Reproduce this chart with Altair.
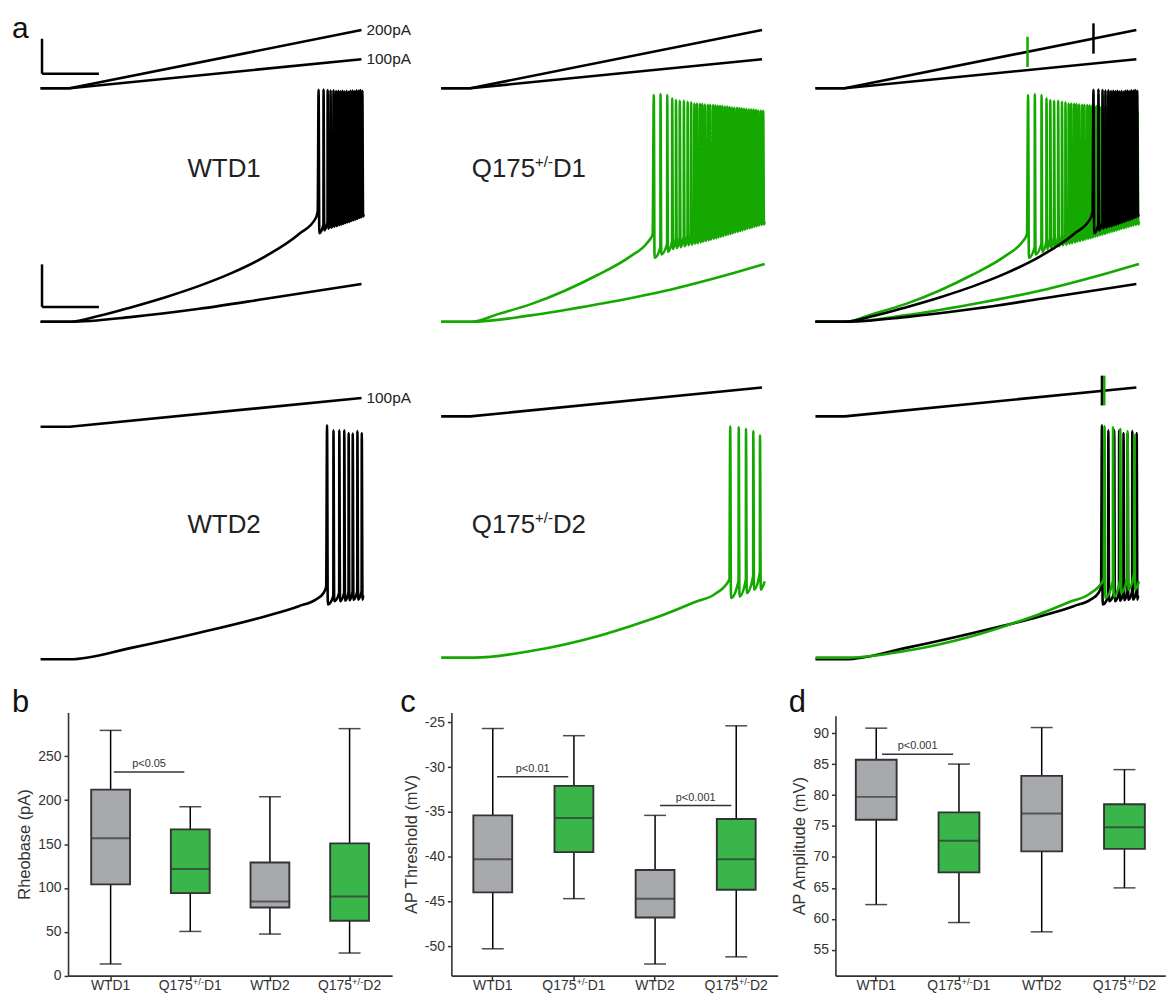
import altair as alt
import pandas as pd

FONT = "Liberation Sans"
INK = "#333333"
BLACK = "#000000"
TRACE_GREEN = "#14a800"
BOX_GREEN = "#39b54a"
BOX_GREY = "#a7a9ac"

W, H = 1165, 990

# ======================= panel a : recordings =======================
# time in ms, injected current in pA, membrane potential in mV
RAMP_T = [0, 100, 1100]
RAMP_200 = [0, 0, 200]
RAMP_100 = [0, 0, 100]

# WT D1, 200 pA ramp
WTD1_SUB_T = [0, 100, 202, 315, 431, 544, 656, 772, 885, 943, 950]
WTD1_SUB_V = [-80, -80, -77.2, -73.0, -68.3, -63.1, -57.0, -49.1, -38.8, -31.3, -28.0]
WTD1_SPK_T = [953, 970, 984, 994, 1004, 1013, 1021, 1028, 1035, 1042, 1049, 1056, 1062, 1069, 1076, 1083, 1090, 1096, 1103]
WTD1_SPK_PEAK = [29.1, 29.3, 29.0, 28.8, 28.9, 28.5, 28.6, 28.4, 28.7, 28.3, 28.5, 28.2, 28.6, 28.8, 28.4, 28.9, 28.6, 29.0, 28.7]
WTD1_SPK_TROUGH = [-38.3, -37.0, -36.2, -35.8, -35.3, -35.0, -34.6, -34.3, -34.0, -33.6, -33.3, -33.0, -32.6, -32.3, -32.0, -31.6, -31.2, -30.9, -30.5]
WTD1_END = (1108, -29.5)
# WT D1, 100 pA ramp
WTD1_LOW_T = [0, 100, 315, 544, 772, 1100]
WTD1_LOW_V = [-80, -80, -77.7, -73.9, -69.2, -62.2]

# Q175 D1, 200 pA ramp
Q1_SUB_T = [0, 102, 195, 308, 422, 536, 650, 706, 725]
Q1_SUB_V = [-80, -80, -76.4, -71.7, -65.5, -58.0, -49.1, -42.9, -38.9]
Q1_SPK_T = [729, 752, 775, 792, 805, 818, 832, 845, 857, 868, 877, 887, 895, 904, 914, 922, 932, 940, 948, 956,
            964, 973, 981, 989, 997, 1005, 1014, 1022, 1030, 1038, 1046, 1055, 1063, 1071, 1079, 1087, 1096, 1104]
Q1_SPK_PEAK = [26.7, 27.1, 26.7, 25.1, 24.3, 24.0, 24.0, 23.5, 23.2, 22.7, 22.7, 22.6, 22.4, 22.2, 22.1, 22.1, 22.0, 21.8, 21.6, 21.6,
               21.5, 21.3, 21.2, 21.0, 20.8, 20.7, 20.7, 20.6, 20.4, 20.2, 20.1, 19.9, 19.8, 19.8, 19.6, 19.4, 19.3, 19.2]
Q1_SPK_TROUGH = [-49.9, -48.3, -47.1, -45.8, -45.3, -44.9, -44.4, -44.0, -43.7, -43.3, -43.0, -42.7, -42.3, -42.0, -41.7, -41.3, -41.0, -40.7, -40.3, -40.0,
                 -39.7, -39.3, -39.0, -38.7, -38.3, -38.0, -37.7, -37.3, -37.0, -36.7, -36.3, -36.0, -35.7, -35.3, -35.0, -34.7, -34.4, -34.2]
Q1_END = (1109, -33.0)
# Q175 D1, 100 pA ramp
Q1_LOW_T = [0, 102, 307, 536, 765, 1003, 1109]
Q1_LOW_V = [-80, -80, -77.0, -71.8, -65.5, -57.0, -52.8]

# WT D2, 100 pA ramp
WTD2_SUB_T = [0, 100, 315, 544, 772, 885, 943, 970, 979]
WTD2_SUB_V = [-80, -80, -74.5, -67.5, -59.7, -55.0, -51.9, -48.8, -45.7]
WTD2_SPK_T = [982, 1004, 1024, 1041, 1056, 1070, 1086, 1101]
WTD2_SPK_PEAK = [30.1, 27.7, 27.7, 27.7, 26.5, 26.2, 27.4, 26.5]
WTD2_SPK_TROUGH = [-54.2, -52.7, -52.7, -52.4, -52.2, -52.0, -51.9, -51.9]
WTD2_END = (1106, -50.0)

# Q175 D2, 100 pA ramp
Q2_SUB_T = [0, 115, 307, 536, 648, 765, 877, 935, 988]
Q2_SUB_V = [-79.2, -79.2, -76.1, -69.1, -64.4, -58.9, -52.7, -49.6, -42.5]
Q2_SPK_T = [991, 1020, 1045, 1070, 1093]
Q2_SPK_PEAK = [29.6, 29.3, 28.5, 27.4, 25.4]
Q2_SPK_TROUGH = [-51.1, -50.4, -48.8, -47.2, -47.2]
Q2_END = (1109, -43.3)

# first-spike markers on the current ramps of the overlay column (ms, pA low, pA high)
ONSET_ROW1_T = [727, 953]
ONSET_ROW1_LO = [73, 119]
ONSET_ROW1_HI = [177, 223]
ONSET_ROW2_T = [982, 990]
ONSET_ROW2_LO = [38, 38]
ONSET_ROW2_HI = [141, 141]

# scale bars: 200 ms, current bar (pA), 20 mV
BAR_T = [5, 200]
BAR_PA = [50, 170]
BAR_MV = [-73, -53]

# ======================= panels b-d : box plots =======================
CATS = ["WTD1", "Q175D1", "WTD2", "Q175D2"]
BOX_FILLS = [BOX_GREY, BOX_GREEN, BOX_GREY, BOX_GREEN]

RHEO_LO = [13.3, 50.4, 47.4, 25.8]
RHEO_Q1 = [104.0, 94.0, 77.7, 62.5]
RHEO_MED = [156.5, 121.6, 84.5, 90.2]
RHEO_Q3 = [212.0, 166.7, 128.9, 150.8]
RHEO_HI = [279.5, 192.5, 203.9, 281.5]

THR_LO = [-50.3, -44.7, -52.0, -51.2]
THR_Q1 = [-44.0, -39.5, -46.8, -43.7]
THR_MED = [-40.3, -35.7, -44.7, -40.3]
THR_Q3 = [-35.4, -32.1, -41.5, -35.8]
THR_HI = [-25.7, -26.5, -35.4, -25.4]

AMP_LO = [62.3, 59.4, 57.9, 65.0]
AMP_Q1 = [76.0, 67.5, 70.9, 71.3]
AMP_MED = [79.7, 72.6, 77.0, 74.8]
AMP_Q3 = [85.7, 77.2, 83.1, 78.5]
AMP_HI = [90.8, 85.0, 90.9, 84.1]

# significance bars: start index, end index, value, label
SIG_B = [(0.04, 0.925, 232.0, "p<0.05")]
SIG_C = [(0.053, 0.93, -31.1, "p<0.01"), (2.06, 2.94, -34.3, "p<0.001")]
SIG_D = [(0.07, 0.93, 86.6, "p<0.001")]

# ======================= layout helpers =======================
COL_OFFSET = [0, 1373, 2656]  # shift of each column along the shared time strip (ms)
XS = alt.Scale(domain=[-111.6, 3847.4], range=[0, 1160], nice=False, zero=False)
MV_PX = 2.135
LW = 2.6


def vscale(row):
    base = 313 if row == 0 else 652
    return alt.Scale(domain=[-80, 40], range=[base, base - 120 * MV_PX], nice=False, zero=False)


I_ROW1 = alt.Scale(domain=[0, 200], range=[78.5, 20], nice=False, zero=False)
I_ROW2 = alt.Scale(domain=[0, 100], range=[408, 379], nice=False, zero=False)
I_WTD2 = alt.Scale(domain=[0, 100], range=[418.5, 389.5], nice=False, zero=False)


def build_trace(sub_t, sub_v, spk_t=(), peak=(), trough=(), recover=4.0, tail=None):
    pts = list(zip(sub_t, sub_v))
    for k in range(len(spk_t)):
        if k > 0:
            pts.append((spk_t[k] - 0.5, trough[k - 1] + recover))
        pts.append((spk_t[k], peak[k]))
        pts.append((spk_t[k] + 2.5, trough[k]))
    if tail:
        pts.append(tail)
    return pts


def line_layer(pts, col, yscale, color, width=LW, interp="monotone"):
    df = pd.DataFrame({
        "x": [p[0] + COL_OFFSET[col] for p in pts],
        "y": [p[1] for p in pts],
        "i": list(range(len(pts))),
    })
    return alt.Chart(df).mark_line(color=color, strokeWidth=width, strokeJoin="round",
                                   interpolate=interp).encode(
        x=alt.X("x:Q", scale=XS, axis=None),
        y=alt.Y("y:Q", scale=yscale, axis=None),
        order=alt.Order("i:Q"),
    )


def seg_layer(rows, col, yscale, color, width=2.5):
    df = pd.DataFrame(rows, columns=["x", "x2", "y", "y2"])
    df["x"] = df["x"] + COL_OFFSET[col]
    df["x2"] = df["x2"] + COL_OFFSET[col]
    return alt.Chart(df).mark_rule(color=color, strokeWidth=width).encode(
        x=alt.X("x:Q", scale=XS, axis=None), x2="x2:Q",
        y=alt.Y("y:Q", scale=yscale, axis=None), y2="y2:Q",
    )


def text_layer(x, y, txt, yscale, size, align="left", baseline="alphabetic", dx=0, dy=0, color="#222222"):
    df = pd.DataFrame({"x": [x], "y": [y], "t": [txt]})
    return alt.Chart(df).mark_text(align=align, baseline=baseline, dx=dx, dy=dy, fontSize=size,
                                   color=color, font=FONT).encode(
        x=alt.X("x:Q", scale=XS, axis=None),
        y=alt.Y("y:Q", scale=yscale, axis=None),
        text="t:N",
    )


def q175_label(x_left, y_base, suffix, yscale, size=26, sup=15, sup_dy=-10):
    w_main = 2.446 * size
    w_sup = 1.195 * sup
    return [
        text_layer(x_left, y_base, "Q175", yscale, size),
        text_layer(x_left, y_base, "+/-", yscale, sup, dx=w_main, dy=sup_dy),
        text_layer(x_left, y_base, suffix, yscale, size, dx=w_main + w_sup),
    ]


def letter(txt, x, y, size=31):
    return alt.Chart(pd.DataFrame({"t": [txt]})).mark_text(
        align="left", baseline="alphabetic", fontSize=size, font=FONT, color="#111111"
    ).encode(text="t:N", x=alt.value(x), y=alt.value(y))


layers = []

# ---------- row 1 ----------
v0 = vscale(0)
wtd1_up = build_trace(WTD1_SUB_T, WTD1_SUB_V, WTD1_SPK_T, WTD1_SPK_PEAK, WTD1_SPK_TROUGH, 4.0, WTD1_END)
wtd1_low = build_trace(WTD1_LOW_T, WTD1_LOW_V)
q1_up = build_trace(Q1_SUB_T, Q1_SUB_V, Q1_SPK_T, Q1_SPK_PEAK, Q1_SPK_TROUGH, 5.0, Q1_END)
q1_low = build_trace(Q1_LOW_T, Q1_LOW_V)

for col in range(3):
    layers.append(line_layer(list(zip(RAMP_T, RAMP_200)), col, I_ROW1, BLACK, LW, "linear"))
    layers.append(line_layer(list(zip(RAMP_T, RAMP_100)), col, I_ROW1, BLACK, LW, "linear"))

# scale bars
layers.append(seg_layer([(BAR_T[0], BAR_T[0], BAR_PA[0], BAR_PA[1]),
                         (BAR_T[0], BAR_T[1], BAR_PA[0], BAR_PA[0])], 0, I_ROW1, BLACK))
layers.append(seg_layer([(BAR_T[0], BAR_T[0], BAR_MV[0], BAR_MV[1]),
                         (BAR_T[0], BAR_T[1], BAR_MV[0], BAR_MV[0])], 0, v0, BLACK))

layers.append(line_layer(wtd1_low, 0, v0, BLACK))
layers.append(line_layer(wtd1_up, 0, v0, BLACK))
layers.append(line_layer(q1_low, 1, v0, TRACE_GREEN))
layers.append(line_layer(q1_up, 1, v0, TRACE_GREEN))
# overlay column
layers.append(seg_layer([(ONSET_ROW1_T[0], ONSET_ROW1_T[0], ONSET_ROW1_LO[0], ONSET_ROW1_HI[0])], 2, I_ROW1, TRACE_GREEN))
layers.append(seg_layer([(ONSET_ROW1_T[1], ONSET_ROW1_T[1], ONSET_ROW1_LO[1], ONSET_ROW1_HI[1])], 2, I_ROW1, BLACK))
layers.append(line_layer(q1_low, 2, v0, TRACE_GREEN))
layers.append(line_layer(q1_up, 2, v0, TRACE_GREEN))
layers.append(line_layer(wtd1_low, 2, v0, BLACK))
layers.append(line_layer(wtd1_up, 2, v0, BLACK))

layers.append(text_layer(1117, 200, "200pA", I_ROW1, 15.5, baseline="middle"))
layers.append(text_layer(1117, 100, "100pA", I_ROW1, 15.5, baseline="middle"))
layers.append(text_layer(629, -12.1, "WTD1", v0, 26, align="center"))
layers += q175_label(1478, -12.1, "D1", v0)

# ---------- row 2 ----------
v1 = vscale(1)
wtd2 = build_trace(WTD2_SUB_T, WTD2_SUB_V, WTD2_SPK_T, WTD2_SPK_PEAK, WTD2_SPK_TROUGH, 4.0, WTD2_END)
q2 = build_trace(Q2_SUB_T, Q2_SUB_V, Q2_SPK_T, Q2_SPK_PEAK, Q2_SPK_TROUGH, 8.0, Q2_END)

layers.append(line_layer(list(zip(RAMP_T, RAMP_100)), 0, I_WTD2, BLACK, LW, "linear"))
layers.append(line_layer(list(zip(RAMP_T, RAMP_100)), 1, I_ROW2, BLACK, LW, "linear"))
layers.append(line_layer(list(zip(RAMP_T, RAMP_100)), 2, I_ROW2, BLACK, LW, "linear"))
layers.append(line_layer(wtd2, 0, v1, BLACK))
layers.append(line_layer(q2, 1, v1, TRACE_GREEN))
layers.append(seg_layer([(ONSET_ROW2_T[0], ONSET_ROW2_T[0], ONSET_ROW2_LO[0], ONSET_ROW2_HI[0])], 2, I_ROW2, BLACK))
layers.append(seg_layer([(ONSET_ROW2_T[1], ONSET_ROW2_T[1], ONSET_ROW2_LO[1], ONSET_ROW2_HI[1])], 2, I_ROW2, TRACE_GREEN))
layers.append(line_layer(wtd2, 2, v1, BLACK))
layers.append(line_layer(q2, 2, v1, TRACE_GREEN))

layers.append(text_layer(1117, 100, "100pA", I_WTD2, 15.5, baseline="middle"))
layers.append(text_layer(629, -20.5, "WTD2", v1, 26, align="center"))
layers += q175_label(1478, -20.5, "D2", v1)

layers.append(letter("a", 4, 28, 30))


# ---------- box plots ----------
def box_layers(lo, q1, med, q3, hi, ydom, yrange, xr0, step, po, ticks, title, title_x, sigs, bw):
    df = pd.DataFrame({"cat": CATS, "lo": lo, "q1": q1, "med": med, "q3": q3, "hi": hi, "fill": BOX_FILLS})
    xr1 = xr0 + step * (4 - 0.5 + 2 * po)
    xsc = alt.Scale(type="band", domain=CATS, range=[xr0, xr1], paddingInner=0.5, paddingOuter=po)
    ysc = alt.Scale(domain=ydom, range=yrange, nice=False, zero=False)
    c0 = xr0 + (po + 0.25) * step
    isc = alt.Scale(domain=[0, 3], range=[c0, c0 + 3 * step], nice=False, zero=False)
    xax = alt.Axis(orient="bottom", offset=yrange[0] - H, labels=False, title=None, tickSize=5,
                   bandPosition=0.5, grid=False, domainColor=INK, tickColor=INK,
                   domainWidth=1.6, tickWidth=1.5)
    yax = alt.Axis(orient="left", offset=-xr0, values=ticks, title=title, titleX=title_x,
                   titleBaseline="middle", labelExpr="'' + datum.value", grid=False, tickSize=4,
                   labelFont=FONT, labelFontSize=14, labelColor=INK, labelPadding=3,
                   titleFont=FONT, titleFontSize=16.5, titleFontWeight="normal", titleColor=INK,
                   domainColor=INK, tickColor=INK, domainWidth=1.6, tickWidth=1.5)
    base = alt.Chart(df)
    X = alt.X("cat:N", scale=xsc, axis=None)
    out = [
        base.mark_rule(color=BLACK, strokeWidth=1.5).encode(
            x=alt.X("cat:N", scale=xsc, axis=xax), y=alt.Y("lo:Q", scale=ysc, axis=yax), y2="hi:Q"),
        base.mark_tick(color=BLACK, thickness=1.5, size=22).encode(x=X, y=alt.Y("lo:Q", scale=ysc, axis=None)),
        base.mark_tick(color=BLACK, thickness=1.5, size=22).encode(x=X, y=alt.Y("hi:Q", scale=ysc, axis=None)),
        base.mark_bar(size=bw, stroke=INK, strokeWidth=1.9).encode(
            x=X, y=alt.Y("q1:Q", scale=ysc, axis=None), y2="q3:Q", color=alt.Color("fill:N", scale=None)),
        base.mark_tick(color=INK, thickness=2, size=bw).encode(x=X, y=alt.Y("med:Q", scale=ysc, axis=None)),
    ]
    sdf = pd.DataFrame(sigs, columns=["a", "b", "v", "t"])
    sdf["m"] = (sdf["a"] + sdf["b"]) / 2
    out.append(alt.Chart(sdf).mark_rule(color=INK, strokeWidth=1.5).encode(
        x=alt.X("a:Q", scale=isc, axis=None), x2="b:Q", y=alt.Y("v:Q", scale=ysc, axis=None)))
    out.append(alt.Chart(sdf).mark_text(fontSize=11, font=FONT, color=INK, baseline="alphabetic", dy=-5).encode(
        x=alt.X("m:Q", scale=isc, axis=None), y=alt.Y("v:Q", scale=ysc, axis=None), text="t:N"))
    # category labels with superscript genotype
    ldf = pd.DataFrame({"cat": CATS})
    ly = alt.value(983.7)
    plain = ldf[ldf["cat"].str.startswith("WT")]
    qq = ldf[ldf["cat"].str.startswith("Q")].copy()
    qq["suffix"] = qq["cat"].str[-2:]
    w_main, w_sup, half = 34.24, 11.35, 31.75
    out.append(alt.Chart(plain).mark_text(fontSize=14, font=FONT, color=INK, align="center", baseline="alphabetic").encode(
        x=X, y=ly, text="cat:N"))
    out.append(alt.Chart(qq).mark_text(fontSize=14, font=FONT, color=INK, align="left", baseline="alphabetic",
                                       dx=-half).encode(x=X, y=ly, text=alt.value("Q175")))
    out.append(alt.Chart(qq).mark_text(fontSize=9.5, font=FONT, color=INK, align="left", baseline="alphabetic",
                                       dx=-half + w_main, dy=-5).encode(x=X, y=ly, text=alt.value("+/-")))
    out.append(alt.Chart(qq).mark_text(fontSize=14, font=FONT, color=INK, align="left", baseline="alphabetic",
                                       dx=-half + w_main + w_sup).encode(x=X, y=ly, text="suffix:N"))
    return out


layers += box_layers(RHEO_LO, RHEO_Q1, RHEO_MED, RHEO_Q3, RHEO_HI, [0, 300], [969.7, 705.3],
                     60.3, 80.0, 0.2845, [0, 50, 100, 150, 200, 250], "Rheobase (pA)", -43.3, SIG_B, 39)
layers += box_layers(THR_LO, THR_Q1, THR_MED, THR_Q3, THR_HI, [-53.3, -23.9], [969.7, 705.3],
                     445.3, 81.5, 0.26, [-50, -45, -40, -35, -30, -25], "AP Threshold (mV)", -40.0, SIG_C, 39)
layers += box_layers(AMP_LO, AMP_Q1, AMP_MED, AMP_Q3, AMP_HI, [50.82, 92.8], [969.7, 708.7],
                     831.0, 83.1, 0.243, [55, 60, 65, 70, 75, 80, 85, 90], "AP Amplitude (mV)", -35.7, SIG_D, 41)

layers.append(letter("b", 4, 705))
layers.append(letter("c", 394, 705))
layers.append(letter("d", 784, 705))

chart = alt.layer(*layers).properties(
    width=W, height=H, padding=0,
    autosize=alt.AutoSizeParams(type="none"),
).resolve_scale(x="independent", y="independent").configure_view(stroke=None)

chart.save("out.html", embed_options={"renderer": "svg", "actions": False})
